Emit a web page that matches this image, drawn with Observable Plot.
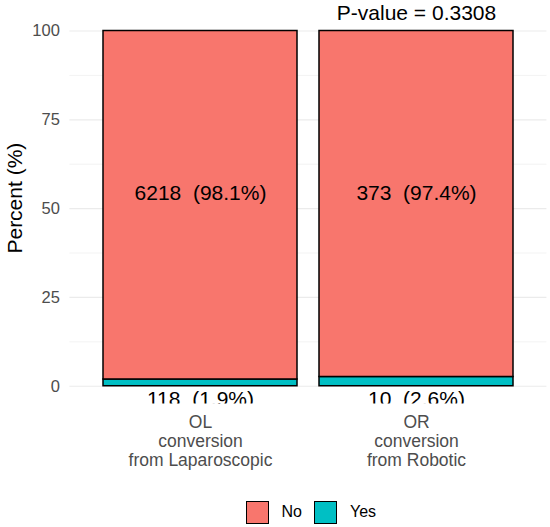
<!DOCTYPE html>
<html>
<head>
<meta charset="utf-8">
<script src="https://cdn.jsdelivr.net/npm/d3@7"></script>
<script src="https://cdn.jsdelivr.net/npm/@observablehq/plot@0.6"></script>
<style>
  html, body { margin: 0; padding: 0; background: #fff; }
  body { width: 550px; height: 527px; overflow: hidden; font-family: "Liberation Sans", Arial, sans-serif; }
  #chart svg { display: block; font-family: "Liberation Sans", Arial, sans-serif; }
  .legend { display: flex; align-items: center; height: 24px; margin-top: 10px; padding-left: 246px; box-sizing: border-box; }
  .sw { width: 21px; height: 21px; border: 1.3px solid #000; }
  .lab { font-size: 16px; color: #000; margin-left: 12.5px; margin-right: 12.5px; }
</style>
</head>
<body>
<div id="chart"></div>
<script>
const categories = ["OL\nconversion\nfrom Laparoscopic", "OR\nconversion\nfrom Robotic"];
const responses = ["No", "Yes"];
const colors = ["#F8766D", "#00BFC4"];
const noCounts = [6218, 373];
const noPct = [98.1, 97.4];
const yesCounts = [118, 10];
const yesPct = [1.9, 2.6];
const pValueLabel = "P-value = 0.3308";
const yTitle = "Percent (%)";
const yTicks = [0, 25, 50, 75, 100];
const yMinorTicks = [12.5, 37.5, 62.5, 87.5];

const rows = [];
categories.forEach((c, i) => rows.push({group: c, response: "Yes", pct: yesPct[i], n: yesCounts[i]}));
categories.forEach((c, i) => rows.push({group: c, response: "No", pct: noPct[i], n: noCounts[i]}));
const lab = d => `${d.n} \u00A0(${d.pct}%)`;

const plot = Plot.plot({
  width: 550,
  height: 490,
  marginTop: 12.74,
  marginBottom: 86.5,
  marginLeft: 69.4,
  marginRight: 3.6,
  style: {fontFamily: "Liberation Sans, Arial, sans-serif", background: "#fff"},
  x: {domain: categories, paddingInner: 0.1, paddingOuter: 0.15, axis: null},
  y: {domain: [-5, 105], axis: null},
  color: {domain: responses, range: colors},
  marks: [
    Plot.gridY(yMinorTicks, {stroke: "#EBEBEB", strokeOpacity: 1, strokeWidth: 0.6}),
    Plot.gridY(yTicks, {stroke: "#EBEBEB", strokeOpacity: 1, strokeWidth: 1.2}),
    Plot.barY(rows, {x: "group", y: "pct", fill: "response", stroke: "#000", strokeWidth: 1.5}),
    Plot.text(rows.filter(d => d.response === "No"), {x: "group", y: 54.2, text: lab, fontSize: 21, fill: "#000"}),
    Plot.text(rows.filter(d => d.response === "Yes"), {x: "group", y: -3.7, text: lab, fontSize: 21, fill: "#000", clip: true}),
    Plot.text([{group: categories[1], label: pValueLabel}], {x: "group", y: 105.1, text: "label", fontSize: 21, fill: "#000"}),
    Plot.axisY({ticks: yTicks, tickSize: 0, tickPadding: 10, fontSize: 16.5, color: "#4D4D4D", label: null}),
    Plot.text([yTitle], {frameAnchor: "left", textAnchor: "middle", lineAnchor: "middle", rotate: -90, dx: -54.4, dy: -10.5, fontSize: 21, fill: "#000"}),
    Plot.axisX({tickSize: 0, tickPadding: 10, fontSize: 17.5, lineHeight: 1.1, color: "#4D4D4D", label: null})
  ]
});
document.getElementById("chart").appendChild(plot);

const leg = document.createElement("div");
leg.className = "legend";
responses.forEach((r, i) => {
  const sw = document.createElement("div");
  sw.className = "sw";
  sw.style.background = colors[i];
  const t = document.createElement("span");
  t.className = "lab";
  t.textContent = r;
  leg.appendChild(sw);
  leg.appendChild(t);
});
document.body.appendChild(leg);
</script>
</body>
</html>
